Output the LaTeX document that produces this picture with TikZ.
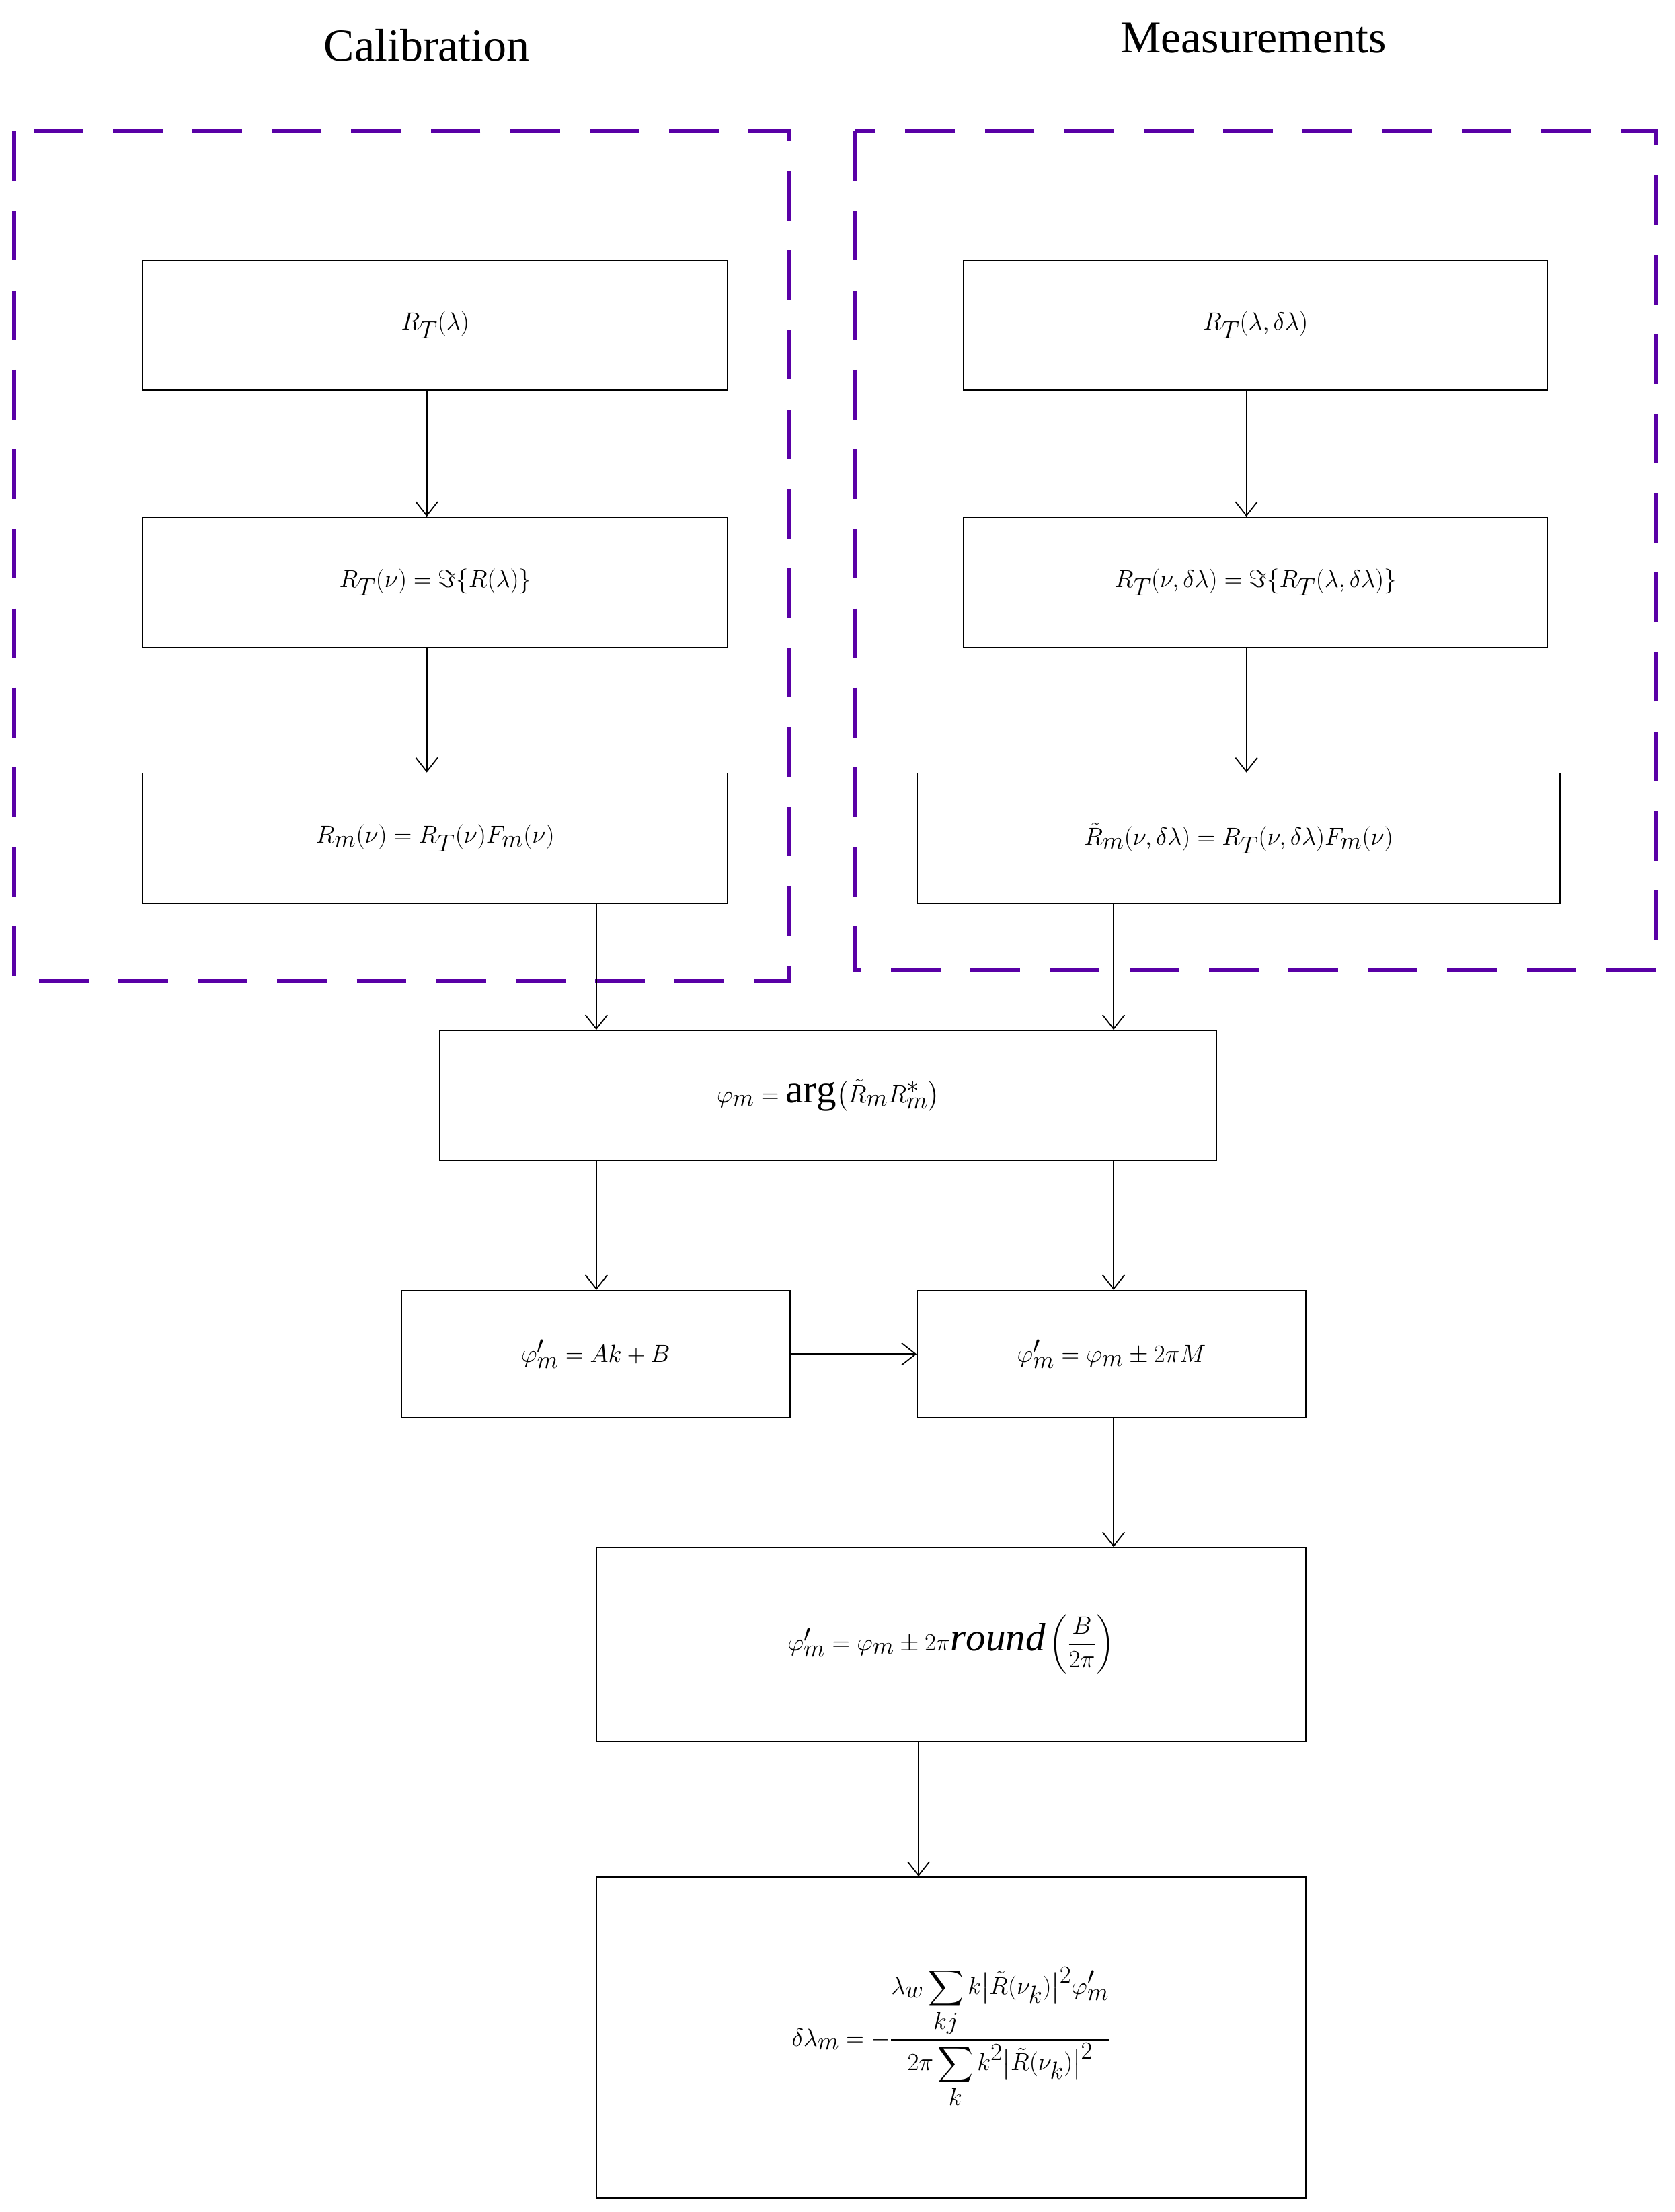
\documentclass[tikz,border=0pt]{standalone}
\usepackage{amsmath}
\usepackage{fontspec}
\setmainfont{Liberation Serif}
\usetikzlibrary{arrows.meta}
\begin{document}
\begin{tikzpicture}[x=0.05cm,y=-0.05cm,
  box/.style={draw,line width=1.2pt,inner sep=0pt,font=\fontsize{40}{48}\selectfont},
  arr/.style={line width=1.2pt,-{Straight Barb[length=14pt,width=22pt,line width=1.2pt]}},
  grp/.style={draw=violet!70!blue,line width=4pt,dash pattern=on 50pt off 30pt},
  ttl/.style={font=\fontsize{46}{54}\selectfont}]
\useasboundingbox (0,0) rectangle (1185,1565);
\node[ttl] (t1) at (302,32) {Calibration};
\node[ttl] (t2) at (887,27) {Measurements};
\draw[grp] (10,93) rectangle (558,694);
\draw[grp] (605,93) rectangle (1172,686);
\node[box,minimum width=20.7cm,minimum height=4.6cm] (B1) at (308,230) {$R_T(\lambda)$};
\node[box,minimum width=20.7cm,minimum height=4.6cm] (B2) at (308,412) {$R_T(\nu)=\Im\{R(\lambda)\}$};
\node[box,minimum width=20.7cm,minimum height=4.6cm] (B3) at (308,593) {$R_m(\nu)=R_T(\nu)F_m(\nu)$};
\node[box,minimum width=20.65cm,minimum height=4.6cm] (M1) at (888.5,230) {$R_T(\lambda,\delta\lambda)$};
\node[box,minimum width=20.65cm,minimum height=4.6cm] (M2) at (888.5,412) {$R_T(\nu,\delta\lambda)=\Im\{R_T(\lambda,\delta\lambda)\}$};
\node[box,minimum width=22.75cm,minimum height=4.6cm] (M3) at (876.5,593) {$\tilde R_m(\nu,\delta\lambda)=R_T(\nu,\delta\lambda)F_m(\nu)$};
\node[box,minimum width=27.5cm,minimum height=4.6cm] (P) at (586,775) {$\varphi_m=\arg\bigl(\tilde R_m R_m^{*}\bigr)$};
\node[box,minimum width=13.75cm,minimum height=4.5cm] (A) at (421.5,958) {$\varphi_m' = Ak+B$};
\node[box,minimum width=13.75cm,minimum height=4.5cm] (Bx) at (786.5,958) {$\varphi_m' = \varphi_m \pm 2\pi M$};
\node[box,minimum width=25.1cm,minimum height=6.85cm] (C) at (673,1163.5) {$\varphi_m' = \varphi_m \pm 2\pi\mathit{round}\left(\dfrac{B}{2\pi}\right)$};
\node[box,minimum width=25.1cm,minimum height=11.35cm] (D) at (673,1441.5) {$\delta\lambda_m = -\dfrac{\lambda_w\displaystyle\sum_{kj} k\bigl|\tilde R(\nu_k)\bigr|^2\varphi_m'}{2\pi\displaystyle\sum_{k} k^2\bigl|\tilde R(\nu_k)\bigr|^2}$};
\coordinate (xa) at (302,0);
\coordinate (xb) at (882,0);
\coordinate (xc) at (422,0);
\coordinate (xd) at (788,0);
\coordinate (xe) at (650,0);
\draw[arr] (B1.south -| xa) -- (B2.north -| xa);
\draw[arr] (B2.south -| xa) -- (B3.north -| xa);
\draw[arr] (M1.south -| xb) -- (M2.north -| xb);
\draw[arr] (M2.south -| xb) -- (M3.north -| xb);
\draw[arr] (B3.south -| xc) -- (P.north -| xc);
\draw[arr] (M3.south -| xd) -- (P.north -| xd);
\draw[arr] (P.south -| xc) -- (A.north -| xc);
\draw[arr] (P.south -| xd) -- (Bx.north -| xd);
\draw[arr] (A.east) -- (Bx.west);
\draw[arr] (Bx.south -| xd) -- (C.north -| xd);
\draw[arr] (C.south -| xe) -- (D.north -| xe);
\end{tikzpicture}
\end{document}
